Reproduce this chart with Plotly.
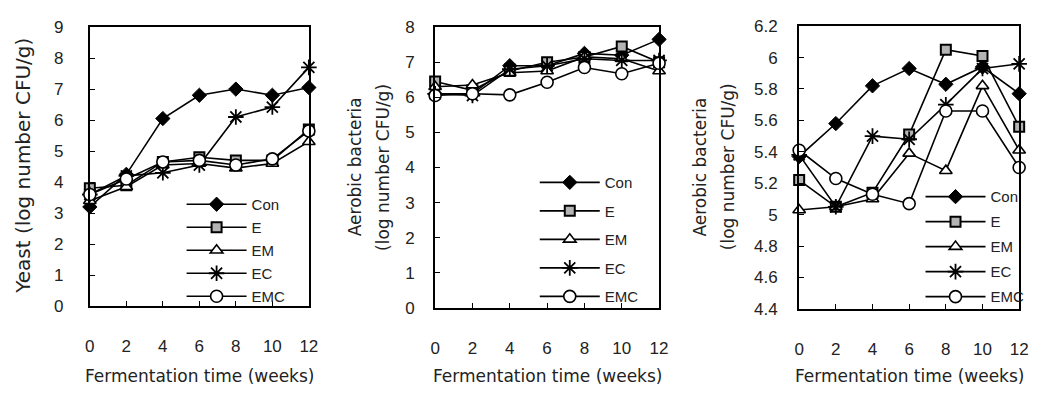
import plotly.graph_objects as go

W, H = 1040, 397

weeks = [0, 2, 4, 6, 8, 10, 12]
series_names = ["Con", "E", "EM", "EC", "EMC"]

# Panel 1: Yeast
yeast_con = [3.2, 4.25, 6.05, 6.8, 7.0, 6.8, 7.05]
yeast_e = [3.8, 3.9, 4.65, 4.8, 4.7, 4.7, 5.7]
yeast_em = [3.4, 3.85, 4.55, 4.6, 4.45, 4.6, 5.3]
yeast_ec = [3.6, 4.2, 4.3, 4.55, 6.1, 6.42, 7.7]
yeast_emc = [3.6, 4.1, 4.65, 4.7, 4.55, 4.75, 5.65]

# Panel 2: Aerobic bacteria
aer1_con = [6.1, 6.1, 6.9, 6.9, 7.25, 7.2, 7.65]
aer1_e = [6.45, 6.2, 6.75, 7.0, 7.15, 7.45, 7.0]
aer1_em = [6.3, 6.35, 6.7, 6.75, 7.15, 7.1, 6.75]
aer1_ec = [6.1, 6.05, 6.8, 6.9, 7.1, 7.05, 7.05]
aer1_emc = [6.05, 6.1, 6.07, 6.43, 6.85, 6.67, 6.97]

# Panel 3: Aerobic bacteria (zoomed scale)
aer2_con = [5.37, 5.58, 5.82, 5.93, 5.83, 5.94, 5.77]
aer2_e = [5.22, 5.05, 5.14, 5.51, 6.05, 6.01, 5.56]
aer2_em = [5.03, 5.05, 5.10, 5.39, 5.28, 5.82, 5.41]
aer2_ec = [5.38, 5.05, 5.50, 5.48, 5.70, 5.93, 5.96]
aer2_emc = [5.41, 5.23, 5.13, 5.07, 5.66, 5.66, 5.30]

x_ticks = [0, 2, 4, 6, 8, 10, 12]
y1_ticks = [0, 1, 2, 3, 4, 5, 6, 7, 8, 9]
y2_ticks = [0, 1, 2, 3, 4, 5, 6, 7, 8]
y3_ticks = [4.4, 4.6, 4.8, 5.0, 5.2, 5.4, 5.6, 5.8, 6.0, 6.2]
y3_labels = ["4.4", "4.6", "4.8", "5", "5.2", "5.4", "5.6", "5.8", "6", "6.2"]

x_title = "Fermentation time (weeks)"
y1_title = "Yeast (log number CFU/g)"
y2_title_a = "Aerobic bacteria"
y2_title_b = "(log number CFU/g)"

FONT = "Liberation Sans"
TFONT = "DejaVu Sans"
TXT = "#222222"

styles = {
    "Con": dict(symbol="diamond", size=11, color="black", line=dict(color="black", width=1)),
    "E": dict(symbol="square", size=10, color="#b4b4b4", line=dict(color="black", width=2)),
    "EM": dict(symbol="triangle-up", size=11, color="white", line=dict(color="black", width=1.6)),
    "EC": dict(symbol="asterisk-open", size=13, color="black", line=dict(color="black", width=1.8)),
    "EMC": dict(symbol="circle", size=12, color="white", line=dict(color="black", width=1.6)),
}

panels = [
    ([yeast_con, yeast_e, yeast_em, yeast_ec, yeast_emc], "x", "y", "legend"),
    ([aer1_con, aer1_e, aer1_em, aer1_ec, aer1_emc], "x2", "y2", "legend2"),
    ([aer2_con, aer2_e, aer2_em, aer2_ec, aer2_emc], "x3", "y3", "legend3"),
]

fig = go.Figure()
for data, xa, ya, lg in panels:
    for name, vals in zip(series_names, data):
        fig.add_trace(go.Scatter(
            x=weeks, y=vals, name=name, mode="lines+markers",
            xaxis=xa, yaxis=ya, legend=lg, legendgroup=lg + name,
            line=dict(color="black", width=1.6),
            marker=styles[name], cliponaxis=False,
        ))

def px(x):
    return x / W

def py(y):
    return 1 - y / H

# plot area pixel boxes: (left, right, top, bottom)
boxes = [(86, 308, 19, 312), (436, 663, 19, 314), (805, 1028, 18, 315)]
yranges = [[0, 9], [0, 8], [4.4, 6.2]]
ytickvals = [y1_ticks, y2_ticks, y3_ticks]
yticktext = [[str(v) for v in y1_ticks], [str(v) for v in y2_ticks], y3_labels]
ystandoff = [21, 15, 16]

axis_common = dict(showline=True, linecolor="black", linewidth=2, mirror=True,
                   showgrid=False, zeroline=False, ticks="inside", ticklen=5,
                   tickwidth=1, tickcolor="black",
                   tickfont=dict(family=FONT, size=17, color=TXT))

layout = dict(width=W, height=H, margin=dict(l=0, r=0, t=0, b=0),
              paper_bgcolor="white", plot_bgcolor="white", showlegend=True)

for i, (l, r, t, b) in enumerate(boxes):
    sx = "" if i == 0 else str(i + 1)
    layout["xaxis" + sx] = dict(domain=[px(l), px(r)], range=[0, 12],
                               anchor="y" + sx, tickvals=x_ticks,
                               ticklabelstandoff=24, **axis_common)
    layout["yaxis" + sx] = dict(domain=[py(b), py(t)], range=yranges[i],
                               anchor="x" + sx, tickvals=ytickvals[i],
                               ticktext=yticktext[i], ticklabelstandoff=ystandoff[i],
                               **axis_common)

legend_pos = [(179, 188, 0.5), (537, 165, 6), (928, 180, 2.5)]
for i, (lx, ly, gap) in enumerate(legend_pos):
    key = "legend" if i == 0 else "legend" + str(i + 1)
    layout[key] = dict(x=px(lx), y=py(ly), xanchor="left", yanchor="top",
                       bgcolor="rgba(0,0,0,0)", borderwidth=0, itemwidth=60,
                       tracegroupgap=gap,
                       font=dict(family=FONT, size=15, color=TXT))

fig.update_layout(**layout)

ann = []
for (l, r, t, b) in boxes:
    ann.append(dict(text=x_title, x=px((l + r) / 2), y=py(385), xref="paper", yref="paper",
                    showarrow=False, xanchor="center", yanchor="middle",
                    font=dict(family=TFONT, size=17, color=TXT)))
ann.append(dict(text=y1_title, x=px(18), y=py(165), xref="paper", yref="paper",
                showarrow=False, textangle=-90, xanchor="center", yanchor="middle",
                font=dict(family=TFONT, size=20, color=TXT)))
for cx_a, cx_b, cy in [(355, 383, 166), (705, 733, 166)]:
    ann.append(dict(text=y2_title_a, x=px(cx_a), y=py(cy), xref="paper", yref="paper",
                    showarrow=False, textangle=-90, xanchor="center", yanchor="middle",
                    font=dict(family=TFONT, size=17, color=TXT)))
    ann.append(dict(text=y2_title_b, x=px(cx_b), y=py(cy), xref="paper", yref="paper",
                    showarrow=False, textangle=-90, xanchor="center", yanchor="middle",
                    font=dict(family=TFONT, size=17, color=TXT)))
fig.update_layout(annotations=ann)

fig.write_html("out.html")
